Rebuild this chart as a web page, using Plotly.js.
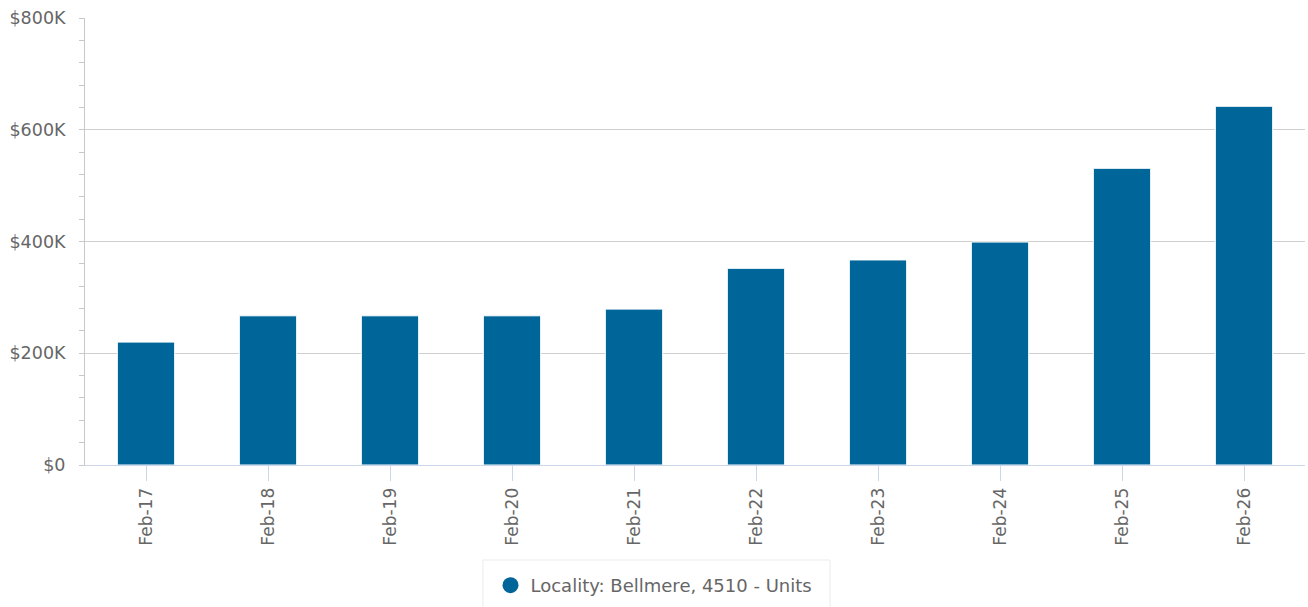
<!DOCTYPE html>
<html>
<head>
<meta charset="utf-8">
<script src="https://cdn.plot.ly/plotly-3.0.1.min.js"></script>
<style>html,body{margin:0;padding:0;background:#fff;}#chart{width:1308px;height:607px;}</style>
</head>
<body>
<div id="chart"></div>
<script>
const categories = ['Feb-17','Feb-18','Feb-19','Feb-20','Feb-21','Feb-22','Feb-23','Feb-24','Feb-25','Feb-26'];
const values = [220000, 267000, 267000, 267000, 279000, 352000, 367000, 399000, 531000, 642000];
const seriesName = 'Locality: Bellmere, 4510 - Units';
const yTickVals = [0, 200000, 400000, 600000, 800000];
const yTickText = ['$0', '$200K', '$400K', '$600K', '$800K'];

const color = '#006699';
const font = "'DejaVu Sans', Verdana, sans-serif";

const traces = [
  {
    type: 'bar', x: categories, y: values, name: seriesName, showlegend: false,
    marker: {color: color, line: {color: '#ffffff', width: 1}},
    hoverinfo: 'x+y'
  },
  {
    type: 'scatter', mode: 'markers', x: [null], y: [null], name: seriesName,
    marker: {color: color, size: 18, symbol: 'circle'}, showlegend: true
  }
];

const layout = {
  width: 1308, height: 607,
  margin: {l: 85, r: 3, t: 18, b: 142},
  paper_bgcolor: '#fff', plot_bgcolor: '#fff',
  font: {family: font, color: '#666', size: 17},
  bargap: 0.53,
  showlegend: true,
  legend: {
    orientation: 'h', xref: 'container', x: 0.5, xanchor: 'center',
    yref: 'container', y: 0.066, yanchor: 'top',
    borderwidth: 0, bgcolor: 'rgba(0,0,0,0)',
    font: {family: font, size: 18, color: '#666'}
  },
  shapes: [{
    type: 'rect', xref: 'paper', yref: 'paper',
    x0: 0.3262, x1: 0.6107, y0: -0.2125, y1: -0.36,
    line: {color: '#ebebeb', width: 1}, fillcolor: 'rgba(0,0,0,0)', layer: 'below'
  }],
  xaxis: {
    type: 'category', tickangle: -90,
    showline: true, linecolor: '#ccd6eb', linewidth: 1,
    ticks: 'outside', ticklen: 15, tickcolor: '#ccd6eb',
    showgrid: false, zeroline: false,
    tickfont: {family: font, size: 17, color: '#666'}
  },
  yaxis: {
    range: [0, 800000], tickvals: yTickVals, ticktext: yTickText,
    showline: true, linecolor: '#c8c8c8', linewidth: 1,
    ticks: 'outside', ticklen: 5, tickcolor: '#c8c8c8',
    ticklabelstandoff: 10,
    showgrid: true, gridcolor: '#cfcfcf', gridwidth: 1,
    zeroline: false,
    minor: {dtick: 40000, ticks: 'outside', ticklen: 5, tickcolor: '#c8c8c8', showgrid: false},
    tickfont: {family: font, size: 17.5, color: '#666'}
  }
};

Plotly.newPlot('chart', traces, layout, {displayModeBar: false, staticPlot: true});
</script>
</body>
</html>
